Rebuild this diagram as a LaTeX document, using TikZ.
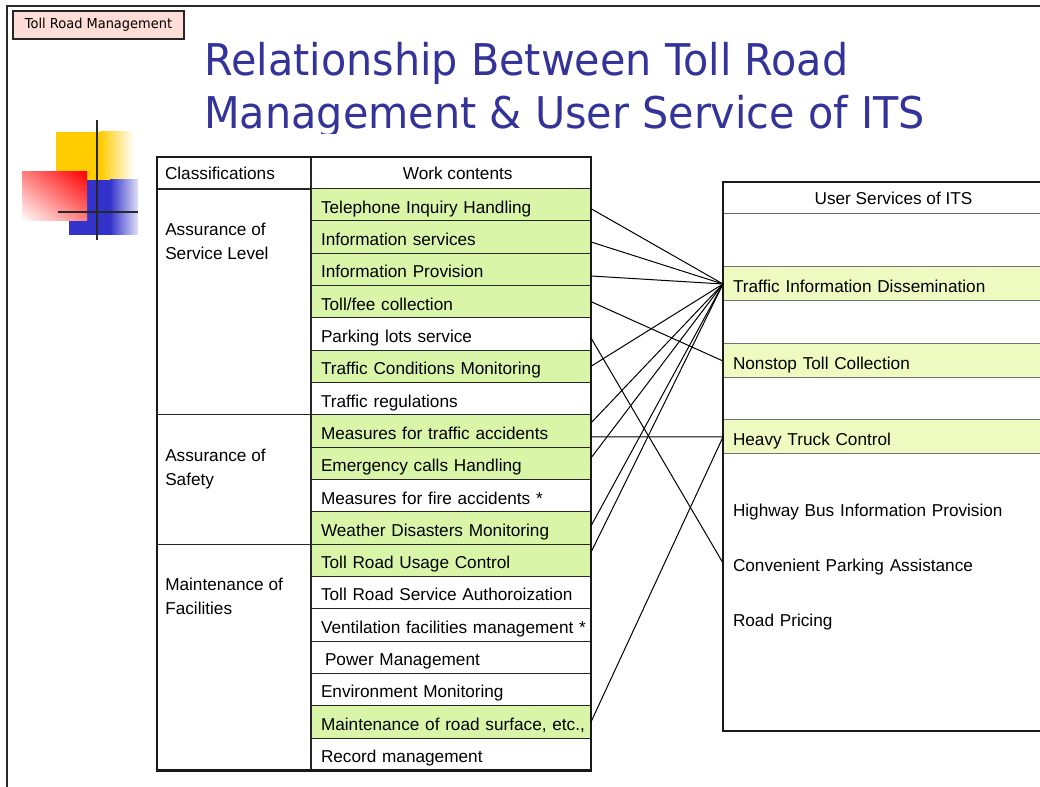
\documentclass[tikz,border=0pt]{standalone}
\usepackage{fontspec}
\setmainfont{Liberation Sans}
\newfontfamily\titlefont[FakeStretch=0.945]{DejaVu Sans}
\usetikzlibrary{positioning, calc, shadings}
\definecolor{titleblue}{RGB}{51,51,153}
\definecolor{tagpink}{RGB}{253,221,214}
\definecolor{workgreen}{RGB}{216,245,168}
\definecolor{itsyellow}{RGB}{239,250,192}
\definecolor{logoyellow}{RGB}{255,204,0}
\definecolor{logoblue}{RGB}{51,51,204}
\definecolor{logored}{RGB}{255,0,0}
\definecolor{framegray}{RGB}{40,40,40}
\newcommand{\tabfont}{\fontsize{12.9}{18}\selectfont}
\tikzset{
  workbox/.style={
    draw=black!85, line width=0.8pt, outer sep=0pt,
    anchor=north west,
    minimum height=24.25pt, text height=12.55pt, text depth=0pt,
    text width=210pt, inner sep=0pt,
    execute at begin node={\hspace*{7.5pt}},
    align=left, font=\tabfont
  },
  clsbox/.style={
    draw=black!85, line width=0.8pt, outer sep=0pt,
    anchor=north west,
    minimum width=115.5pt, inner sep=0pt
  },
  clstext/.style={anchor=north west, align=left, inner sep=0pt, font=\tabfont},
  itsband/.style={
    draw=black!55, fill=itsyellow, line width=0.75pt, outer sep=0pt,
    anchor=west,
    minimum height=25.5pt, text height=12.55pt, text depth=0pt,
    text width=240pt, inner xsep=7.5pt, inner ysep=0pt,
    align=left, font=\tabfont
  },
  itsitem/.style={anchor=west, outer sep=0pt, text width=240pt, inner xsep=7.5pt, align=left, font=\tabfont},
  link/.style={black, line width=0.75pt}
}

\begin{document}
\begin{tikzpicture}[x=0.75pt, y=-0.75pt]
\useasboundingbox (0,0) rectangle (1040,787);
\clip (0,0) rectangle (1040,787);

% slide frame
\draw[framegray, line width=1.5pt] (7,800) -- (7,6) -- (1060,6);

% tag and title
\node[draw=black!85, line width=0.8pt, fill=tagpink, minimum width=128.25pt, minimum height=21pt,
      inner sep=0pt, font=\titlefont\fontsize{10.3}{12}\selectfont] (tag) at (98.5,25) {Toll Road Management};
\begin{scope}
  \clip (0,0) rectangle (1040,134);
  \node[anchor=base west, inner sep=0pt, text=titleblue, font=\titlefont\fontsize{32.8}{40}\selectfont]
    (title1) at (204,76) {Relationship Between Toll Road};
  \node[anchor=base west, inner sep=0pt, text=titleblue, font=\titlefont\fontsize{32.8}{40}\selectfont]
    (title2) at (204,129) {Management \& User Service of ITS};
\end{scope}

% logo
\fill[logoyellow] (56,132) rectangle (100,181);
\shade[left color=logoyellow, right color=white] (100,132) rectangle (134,181);
\fill[logoblue] (69,180) rectangle (110,235);
\shade[left color=logoblue, right color=logoblue!15] (110,180) rectangle (138,235);
\shade[upper right=logored, lower left=white, upper left=logored!50!white, lower right=logored!50!white]
  (22,172) rectangle (87,221);
\draw[framegray, line width=2.2pt] (97,120) -- (97,240);
\draw[framegray, line width=2.2pt] (58,212) -- (138,212);

% left table: headers
\node[draw=black!85, line width=0.8pt, outer sep=0pt, anchor=north west, minimum height=24pt,
      text width=103.5pt, inner xsep=6pt, inner ysep=0pt, align=left, font=\tabfont]
  (clshead) at (157,157) {Classifications};
\node[draw=black!85, line width=0.8pt, outer sep=0pt, anchor=north west, minimum height=24pt, minimum width=210pt,
      inner sep=0pt, font=\tabfont] (workhead) at (311,157) {\hspace*{10pt}Work contents};

% classifications
\node[clsbox, minimum height=169.75pt] (svclevel) at (157,188.5) {};
\node[clsbox, minimum height=97pt] (safety) at (svclevel.south west) {};
\node[clsbox, minimum height=169.75pt] (facil) at (safety.south west) {};
\node[clstext] (svctxt) at ([xshift=6pt, yshift=-25.5pt]svclevel.north west) {Assurance of\\Service Level};
\node[clstext] (saftxt) at ([xshift=6pt, yshift=-25.5pt]safety.north west) {Assurance of\\Safety};
\node[clstext] (factxt) at ([xshift=6pt, yshift=-25.5pt]facil.north west) {Maintenance of\\Facilities};

% work contents
\foreach \name/\bg/\txt [count=\i] in {
  telinq/workgreen/Telephone Inquiry Handling,
  infosvc/workgreen/Information services,
  infoprov/workgreen/Information Provision,
  tollfee/workgreen/{Toll/fee collection},
  parking/white/Parking lots service,
  trafcond/workgreen/Traffic Conditions Monitoring,
  trafreg/white/Traffic regulations,
  accid/workgreen/Measures for traffic accidents,
  emcall/workgreen/Emergency calls Handling,
  fire/white/Measures for fire accidents *,
  weather/workgreen/Weather Disasters Monitoring,
  usage/workgreen/Toll Road Usage Control,
  authz/white/Toll Road Service Authoroization,
  vent/white/Ventilation facilities management *,
  power/white/\hspace{3pt}Power Management,
  envmon/white/Environment Monitoring,
  roadsurf/workgreen/{Maintenance of road surface, etc.,},
  record/white/Record management}
  \node[workbox, fill=\bg] (\name) at (311,{188.5+(\i-1)*32.33}) {\txt};

\draw[black!90, line width=1.6pt] (clshead.north west) rectangle (record.south east);

% user services of ITS
\node[itsband] (tid) at (723,284) {Traffic Information Dissemination};
\node[itsband] (ntc) at (723,361) {Nonstop Toll Collection};
\node[itsband] (htc) at (723,437) {Heavy Truck Control};
\node[itsitem] (hbip) at (723,512) {Highway Bus Information Provision};
\node[itsitem] (cpa) at (723,567) {Convenient Parking Assistance};
\node[itsitem] (rp) at (723,622) {Road Pricing};
\node[draw=black!60, line width=0.75pt, anchor=north west, minimum width=255pt, minimum height=23.25pt,
      inner sep=0pt, font=\tabfont] (itshead) at (723,182) {User Services of ITS};
\node[draw=black!90, line width=2.2pt, outer sep=0pt, anchor=north west, minimum width=255pt, minimum height=411.75pt,
      inner sep=0pt] (itsframe) at (723,182) {};

% links to Traffic Information Dissemination
\draw[link] ([yshift=-3pt]telinq.east) -- (tid.west);
\draw[link] ([yshift=-3.75pt]infosvc.east) -- (tid.west);
\draw[link] ([yshift=-5pt]infoprov.east) -- (tid.west);
\draw[link] (trafcond.east) -- (tid.west);
\draw[link] ([yshift=6pt]accid.east) -- (tid.west);
\draw[link] ([yshift=4pt]emcall.east) -- (tid.west);
\draw[link] ([yshift=1.5pt]weather.east) -- (tid.west);
\draw[link] ([yshift=6pt]usage.east) -- (tid.west);

% links to the other services
\draw[link] (tollfee.east) -- (ntc.west);
\draw[link] ([yshift=-3pt]parking.east) -- ([yshift=3pt]cpa.west);
\draw[link] ([yshift=-4.5pt]accid.east) -- (htc.west);
\draw[link] (roadsurf.east) -- (htc.west);

\end{tikzpicture}
\end{document}
